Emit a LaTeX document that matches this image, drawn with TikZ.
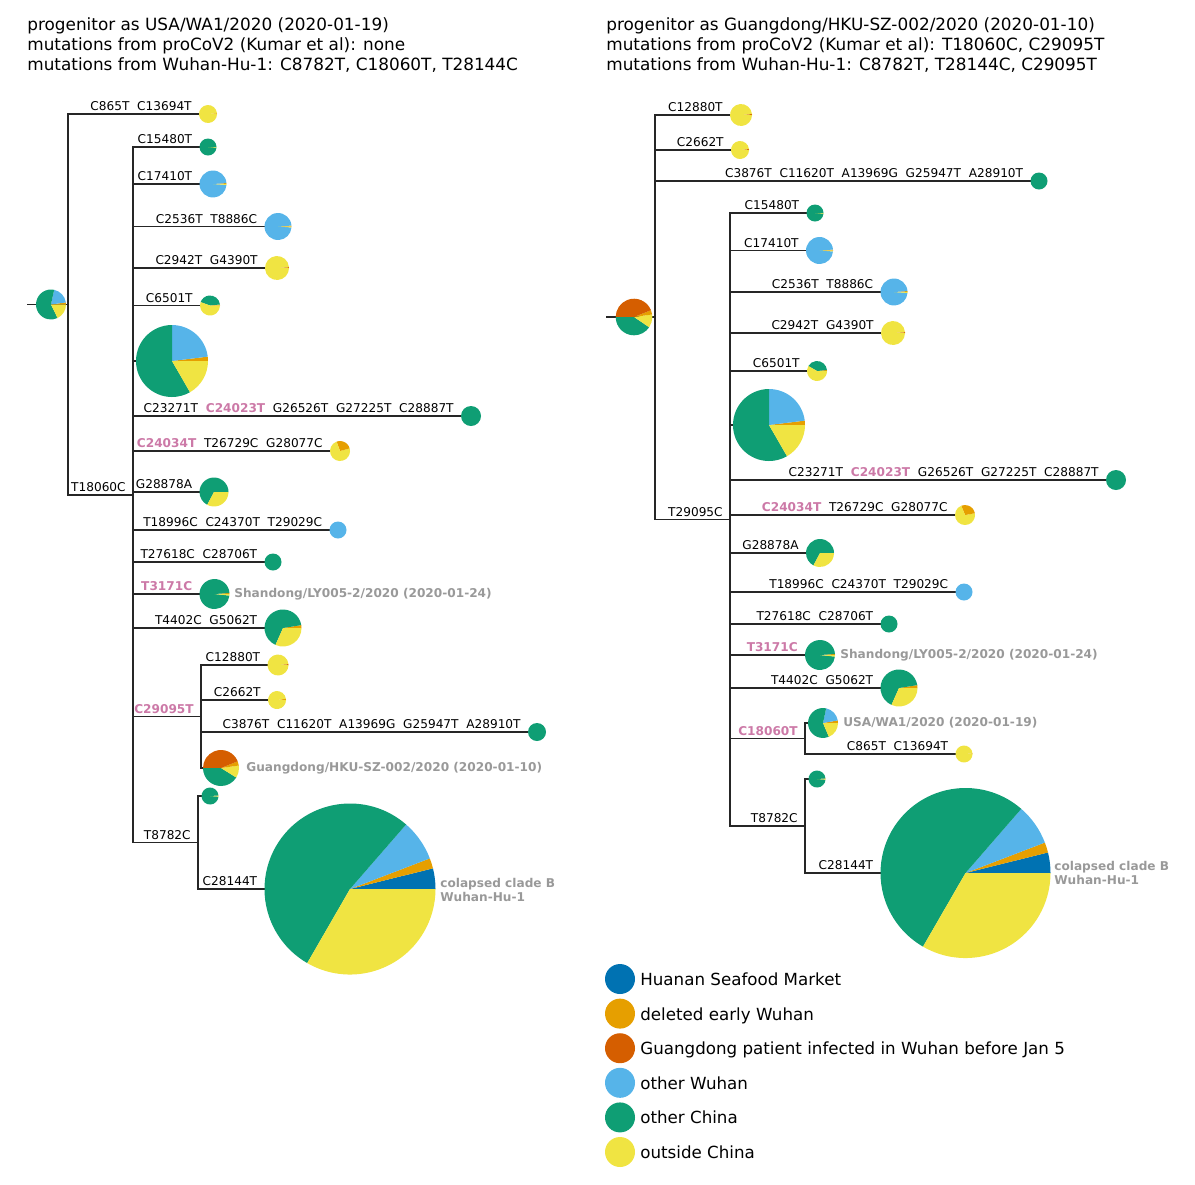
\documentclass[tikz,border=0pt]{standalone}
\usepackage{fontspec}
\setmainfont{DejaVu Sans}
\usepackage{xcolor}
\usepackage{tikz}

\definecolor{huanan}{HTML}{0072B2}
\definecolor{deleted}{HTML}{E69F00}
\definecolor{gdpatient}{HTML}{D55E00}
\definecolor{otherwuhan}{HTML}{56B4E9}
\definecolor{otherchina}{HTML}{0F9E74}
\definecolor{outside}{HTML}{F0E442}
\definecolor{mutpink}{HTML}{CC79A7}
\definecolor{tipgray}{HTML}{999999}

\newcommand{\hlmut}[1]{\textbf{\color{mutpink}#1}}
\newcommand{\mg}{\hspace{0.64em}}
% pie right of a tree node: name, radius, list of end angle/colour
\newcommand{\drawpie}[3]{%
  \gdef\pielast{0}%
  \foreach \pend/\pcol in {#3}{%
    \fill[\pcol] ([xshift=#2*0.02cm]#1) -- ++(\pielast:#2) arc[start angle=\pielast, end angle=\pend, radius=#2] -- cycle;
    \xdef\pielast{\pend}%
  }}

\tikzset{
  branch/.style={draw=black!85, line width=0.8pt},
  mut/.style={anchor=base east, inner sep=0pt, xshift=-0.14cm, yshift=0.07cm, font=\fontsize{6.9}{8}\selectfont},
  tip/.style={anchor=west, inner sep=0pt, text=tipgray, font=\fontsize{6.9}{8}\selectfont\bfseries},
  heading/.style={anchor=base west, inner sep=0pt, font=\fontsize{9.6}{11.4}\selectfont},
  legdot/.style={circle, minimum size=0.6cm, inner sep=0pt},
  legtext/.style={anchor=base west, inner sep=0pt, font=\fontsize{9.5}{11}\selectfont}
}

\begin{document}
\begin{tikzpicture}[x=0.02cm, y=0.02cm]
	\useasboundingbox (0,0) rectangle (1195,-1184);

	\node[heading] (hL1) at (27,-30.5) {progenitor as USA/WA1/2020 (2020-01-19)};
	\node[heading] (hL2) at (27,-50.5) {mutations from proCoV2 (Kumar et al): none};
	\node[heading] (hL3) at (27,-70.5) {mutations from Wuhan-Hu-1: C8782T, C18060T, T28144C};
	\node[heading] (hR1) at (606,-30.5) {progenitor as Guangdong/HKU-SZ-002/2020 (2020-01-10)};
	\node[heading] (hR2) at (606,-50.5) {mutations from proCoV2 (Kumar et al): T18060C, C29095T};
	\node[heading] (hR3) at (606,-70.5) {mutations from Wuhan-Hu-1: C8782T, T28144C, C29095T};

	% left tree
	\coordinate (L0) at (27,-304.5);
	\coordinate (lroot) at (36,-304.5);
	\coordinate (nA) at (68,-304.5);
	\coordinate (a1) at (199,-114);
	\coordinate (nB) at (133,-495);
	\coordinate (b1) at (199.5,-147);
	\coordinate (b2) at (199.5,-184);
	\coordinate (b3) at (264.5,-226.5);
	\coordinate (b4) at (265,-268);
	\coordinate (b5) at (200,-305.5);
	\coordinate (b6) at (136,-361);
	\coordinate (b7) at (461,-416);
	\coordinate (b8) at (330,-451);
	\coordinate (b9) at (199.5,-492);
	\coordinate (b10) at (329.5,-530);
	\coordinate (b11) at (264.5,-562);
	\coordinate (b12) at (199.5,-594);
	\coordinate (b13) at (264.5,-628);
	\coordinate (nC) at (201,-716.5);
	\coordinate (c1) at (267.5,-665);
	\coordinate (c2) at (268,-700);
	\coordinate (c3) at (528,-732);
	\coordinate (c4) at (203,-768);
	\coordinate (nD) at (198,-842.5);
	\coordinate (d1) at (201.5,-796);
	\coordinate (d2) at (264.5,-889);

	\draw[branch] (L0) -- (nA);
	\draw[branch] (nA) |- (a1);
	\draw[branch] (nA) |- (nB);
	\foreach \i in {1,...,13} \draw[branch] (nB) |- (b\i);
	\draw[branch] (nB) |- (nC);
	\draw[branch] (nB) |- (nD);
	\foreach \i in {1,...,4} \draw[branch] (nC) |- (c\i);
	\draw[branch] (nD) |- (d1);
	\draw[branch] (nD) |- (d2);

	\drawpie{lroot}{15}{8/deleted, 78/otherwuhan, 296/otherchina, 360/outside}
	\drawpie{a1}{9}{5/deleted, 360/outside}
	\drawpie{b1}{8.5}{355/otherchina, 360/outside}
	\drawpie{b2}{13.5}{4/deleted, 356/otherwuhan, 360/outside}
	\drawpie{b3}{13.5}{4/deleted, 356/otherwuhan, 360/outside}
	\drawpie{b4}{12}{4/gdpatient, 360/outside}
	\drawpie{b5}{10}{6/deleted, 160/otherchina, 360/outside}
	\drawpie{b6}{36}{7/deleted, 90/otherwuhan, 300/otherchina, 360/outside}
	\drawpie{b7}{10}{360/otherchina}
	\drawpie{b8}{10}{15/outside, 110/deleted, 360/outside}
	\drawpie{b9}{14.5}{242/otherchina, 360/outside}
	\drawpie{b10}{8.5}{360/otherwuhan}
	\drawpie{b11}{8.5}{360/otherchina}
	\drawpie{b12}{15}{4/deleted, 354/otherchina, 360/outside}
	\drawpie{b13}{18.5}{9/deleted, 246/otherchina, 360/outside}
	\drawpie{c1}{10.5}{5/gdpatient, 360/outside}
	\drawpie{c2}{9}{8/deleted, 360/outside}
	\drawpie{c3}{9}{360/otherchina}
	\drawpie{c4}{18}{8/outside, 22/deleted, 180/gdpatient, 328/otherchina, 360/outside}
	\drawpie{d1}{8.5}{4/deleted, 356/otherchina, 360/outside}
	\drawpie{d2}{85.5}{14/huanan, 21/deleted, 49/otherwuhan, 240/otherchina, 360/outside}

	\node[mut] (ta1) at (a1) {C865T\mg C13694T};
	\node[mut] (tb1) at (b1) {C15480T};
	\node[mut] (tb2) at (b2) {C17410T};
	\node[mut] (tb3) at (b3) {C2536T\mg T8886C};
	\node[mut] (tb4) at (b4) {C2942T\mg G4390T};
	\node[mut] (tb5) at (b5) {C6501T};
	\node[mut] (tb7) at (b7) {C23271T\mg\hlmut{C24023T}\mg G26526T\mg G27225T\mg C28887T};
	\node[mut] (tb8) at (b8) {\hlmut{C24034T}\mg T26729C\mg G28077C};
	\node[mut] (tb9) at (b9) {G28878A};
	\node[mut] (tb10) at (b10) {T18996C\mg C24370T\mg T29029C};
	\node[mut] (tb11) at (b11) {T27618C\mg C28706T};
	\node[mut] (tb12) at (b12) {\hlmut{T3171C}};
	\node[mut] (tb13) at (b13) {T4402C\mg G5062T};
	\node[mut] (tnB) at (nB) {T18060C};
	\node[mut] (tnC) at (nC) {\hlmut{C29095T}};
	\node[mut] (tc1) at (c1) {C12880T};
	\node[mut] (tc2) at (c2) {C2662T};
	\node[mut] (tc3) at (c3) {C3876T\mg C11620T\mg A13969G\mg G25947T\mg A28910T};
	\node[mut] (tnD) at (nD) {T8782C};
	\node[mut] (td2) at (d2) {C28144T};

	\node[tip] (sdL) at (234,-594) {Shandong/LY005-2/2020 (2020-01-24)};
	\node[tip] (gdL) at (246,-768) {Guangdong/HKU-SZ-002/2020 (2020-01-10)};
	\node[tip, align=left] (cbL) at (440,-890) {colapsed clade B\\Wuhan-Hu-1};

	% right tree
	\coordinate (R0) at (606,-317);
	\coordinate (rroot) at (615.7,-317);
	\coordinate (nE) at (655,-317);
	\coordinate (e1) at (730,-115);
	\coordinate (e2) at (731,-150);
	\coordinate (e3) at (1030.5,-181);
	\coordinate (nF) at (730,-519.5);
	\coordinate (f1) at (806.5,-213);
	\coordinate (f2) at (806,-250.5);
	\coordinate (f3) at (880.5,-292);
	\coordinate (f4) at (881,-333);
	\coordinate (f5) at (807,-371);
	\coordinate (f6) at (733,-425);
	\coordinate (f7) at (1106,-480);
	\coordinate (f8) at (955,-515);
	\coordinate (f9) at (806,-553);
	\coordinate (f10) at (955.5,-592);
	\coordinate (f11) at (880.5,-624);
	\coordinate (f12) at (805,-655);
	\coordinate (f13) at (880.5,-688);
	\coordinate (nG) at (805,-738.5);
	\coordinate (g1) at (808,-723);
	\coordinate (g2) at (955.5,-754);
	\coordinate (nH) at (805,-826);
	\coordinate (h1) at (808.5,-779);
	\coordinate (h2) at (880.5,-873);

	\draw[branch] (R0) -- (nE);
	\foreach \i in {1,...,3} \draw[branch] (nE) |- (e\i);
	\draw[branch] (nE) |- (nF);
	\foreach \i in {1,...,13} \draw[branch] (nF) |- (f\i);
	\draw[branch] (nF) |- (nG);
	\draw[branch] (nF) |- (nH);
	\draw[branch] (nG) |- (g1);
	\draw[branch] (nG) |- (g2);
	\draw[branch] (nH) |- (h1);
	\draw[branch] (nH) |- (h2);

	\drawpie{rroot}{18.3}{8/outside, 22/deleted, 180/gdpatient, 326/otherchina, 360/outside}
	\drawpie{e1}{11}{5/gdpatient, 360/outside}
	\drawpie{e2}{9}{6/gdpatient, 360/outside}
	\drawpie{e3}{8.5}{360/otherchina}
	\drawpie{f1}{8.5}{355/otherchina, 360/outside}
	\drawpie{f2}{13.5}{4/deleted, 356/otherwuhan, 360/outside}
	\drawpie{f3}{13.5}{4/deleted, 356/otherwuhan, 360/outside}
	\drawpie{f4}{12}{4/gdpatient, 360/outside}
	\drawpie{f5}{10}{6/deleted, 150/otherchina, 360/outside}
	\drawpie{f6}{36}{7/deleted, 90/otherwuhan, 300/otherchina, 360/outside}
	\drawpie{f7}{10}{360/otherchina}
	\drawpie{f8}{10}{10/outside, 112/deleted, 360/outside}
	\drawpie{f9}{14}{242/otherchina, 360/outside}
	\drawpie{f10}{8.5}{360/otherwuhan}
	\drawpie{f11}{8.5}{360/otherchina}
	\drawpie{f12}{15}{4/deleted, 354/otherchina, 360/outside}
	\drawpie{f13}{18.5}{9/deleted, 246/otherchina, 360/outside}
	\drawpie{g1}{15}{10/deleted, 78/otherwuhan, 293/otherchina, 360/outside}
	\drawpie{g2}{8.5}{4/deleted, 360/outside}
	\drawpie{h1}{8.5}{4/deleted, 356/otherchina, 360/outside}
	\drawpie{h2}{85}{14/huanan, 21/deleted, 49/otherwuhan, 240/otherchina, 360/outside}

	\node[mut] (te1) at (e1) {C12880T};
	\node[mut] (te2) at (e2) {C2662T};
	\node[mut] (te3) at (e3) {C3876T\mg C11620T\mg A13969G\mg G25947T\mg A28910T};
	\node[mut] (tnF) at (nF) {T29095C};
	\node[mut] (tf1) at (f1) {C15480T};
	\node[mut] (tf2) at (f2) {C17410T};
	\node[mut] (tf3) at (f3) {C2536T\mg T8886C};
	\node[mut] (tf4) at (f4) {C2942T\mg G4390T};
	\node[mut] (tf5) at (f5) {C6501T};
	\node[mut] (tf7) at (f7) {C23271T\mg\hlmut{C24023T}\mg G26526T\mg G27225T\mg C28887T};
	\node[mut] (tf8) at (f8) {\hlmut{C24034T}\mg T26729C\mg G28077C};
	\node[mut] (tf9) at (f9) {G28878A};
	\node[mut] (tf10) at (f10) {T18996C\mg C24370T\mg T29029C};
	\node[mut] (tf11) at (f11) {T27618C\mg C28706T};
	\node[mut] (tf12) at (f12) {\hlmut{T3171C}};
	\node[mut] (tf13) at (f13) {T4402C\mg G5062T};
	\node[mut] (tnG) at (nG) {\hlmut{C18060T}};
	\node[mut] (tg2) at (g2) {C865T\mg C13694T};
	\node[mut] (tnH) at (nH) {T8782C};
	\node[mut] (th2) at (h2) {C28144T};

	\node[tip] (sdR) at (840,-655) {Shandong/LY005-2/2020 (2020-01-24)};
	\node[tip] (usR) at (843,-723) {USA/WA1/2020 (2020-01-19)};
	\node[tip, align=left] (cbR) at (1054,-873) {colapsed clade B\\Wuhan-Hu-1};

	% legend
	\foreach \col/\txt [count=\k] in {huanan/Huanan Seafood Market, deleted/deleted early Wuhan,
	    gdpatient/Guangdong patient infected in Wuhan before Jan 5, otherwuhan/other Wuhan,
	    otherchina/other China, outside/outside China} {
		\node[legdot, fill=\col] (key\k) at (620,{-979-34.6*(\k-1)}) {};
		\node[legtext] (keytxt\k) at ([xshift=0.4cm, yshift=-0.13cm]key\k.center) {\txt};
	}
\end{tikzpicture}
\end{document}
